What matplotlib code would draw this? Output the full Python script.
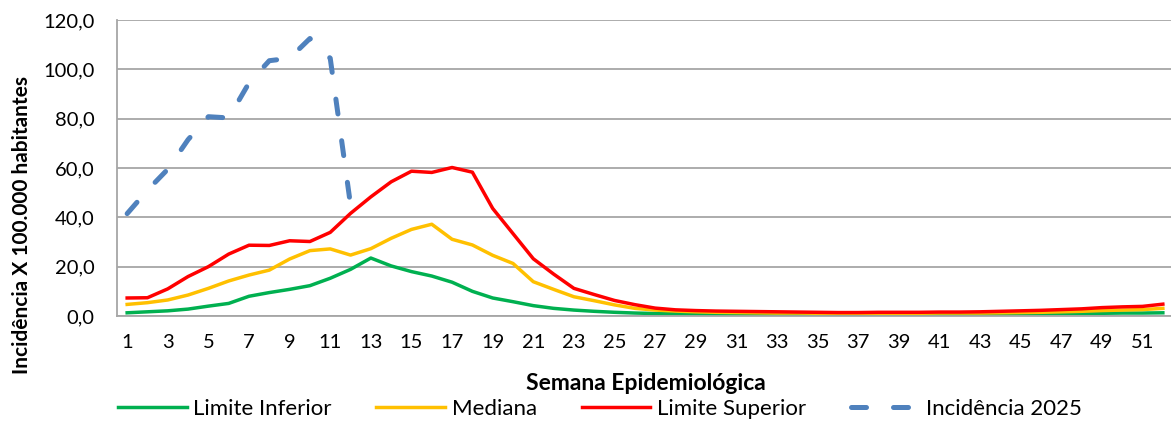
import matplotlib
matplotlib.use('Agg')
import matplotlib.pyplot as plt

plt.rcParams['font.family'] = ['Lato', 'DejaVu Sans']

semanas = list(range(1, 53))

limite_inferior = [1.3, 1.7, 2.1, 2.8, 4.0, 5.1, 8.0, 9.5, 10.8, 12.3, 15.3, 18.9,
                   23.5, 20.3, 18.0, 16.2, 13.7, 10.0, 7.3, 5.8, 4.2, 3.1, 2.4, 1.9,
                   1.5, 1.2, 1.0, 0.9, 0.8, 0.7, 0.7, 0.7, 0.7, 0.7, 0.7, 0.7,
                   0.7, 0.7, 0.7, 0.7, 0.8, 0.8, 0.8, 0.8, 0.9, 0.9, 1.0, 1.0,
                   1.1, 1.2, 1.2, 1.3]
mediana = [4.7, 5.4, 6.5, 8.5, 11.2, 14.2, 16.6, 18.6, 23.1, 26.5, 27.2, 24.7,
           27.3, 31.5, 35.1, 37.2, 31.1, 28.8, 24.6, 21.3, 13.9, 10.8, 7.8, 6.2,
           4.5, 3.1, 2.4, 2.0, 1.7, 1.5, 1.4, 1.3, 1.2, 1.2, 1.1, 1.1,
           1.1, 1.1, 1.1, 1.1, 1.2, 1.2, 1.2, 1.3, 1.4, 1.5, 1.7, 1.9,
           2.2, 2.4, 2.6, 3.1]
limite_superior = [7.3, 7.4, 11.0, 16.0, 20.0, 25.1, 28.7, 28.6, 30.5, 30.2, 33.9, 41.6,
                   48.3, 54.4, 58.7, 58.2, 60.2, 58.3, 43.6, 33.4, 23.2, 17.0, 11.2, 8.7,
                   6.3, 4.6, 3.2, 2.5, 2.2, 2.0, 1.9, 1.8, 1.7, 1.6, 1.5, 1.4,
                   1.4, 1.5, 1.5, 1.5, 1.6, 1.6, 1.7, 1.9, 2.1, 2.3, 2.6, 2.9,
                   3.4, 3.7, 3.9, 4.8]
incidencia_2025 = [41.5, 51.0, 59.5, 71.5, 80.8, 80.3, 94.5, 103.5, 104.5, 112.5, 104.5, 45.0]

fig = plt.figure(figsize=(11.71, 4.21), dpi=100)
ax = fig.add_axes([117 / 1171, 1 - 316 / 421, (1173 - 117) / 1171, (316 - 20) / 421])

ax.plot(semanas, limite_inferior, color='#00B050', lw=2.5, label='Limite Inferior')
ax.plot(semanas, mediana, color='#FFC000', lw=2.5, label='Mediana')
ax.plot(semanas, limite_superior, color='#FF0000', lw=2.5, label='Limite Superior')
ax.plot(semanas[:len(incidencia_2025)], incidencia_2025, color='#4F81BD', lw=3.6,
        dashes=(3, 5.4), dash_capstyle='round', label='Incidência 2025')

ax.set_xlim(0.5, 52.5)
ax.set_ylim(0, 120)
ax.set_yticks(range(0, 121, 20))
ax.set_yticklabels([f'{v},0' for v in range(0, 121, 20)])
ax.set_xticks(semanas[::2])
ax.tick_params(axis='both', length=0, labelsize=14.5, colors='black')
ax.tick_params(axis='x', pad=13)
ax.tick_params(axis='y', pad=16)

ax.grid(axis='y', color='#A6A6A6', lw=1.3)
ax.set_axisbelow(True)
for s in ['top', 'right']:
    ax.spines[s].set_visible(False)
for s in ['left', 'bottom']:
    ax.spines[s].set_color('#A6A6A6')
    ax.spines[s].set_linewidth(1.3)

fig.text(646 / 1171, 1 - 384 / 421, 'Semana Epidemiológica', fontsize=16.5,
         fontweight='bold', ha='center', va='center')
fig.text(22 / 1171, 1 - 225 / 421, 'Incidência X 100.000 habitantes', fontsize=15,
         fontweight='bold', ha='center', va='center', rotation=90)

fig.legend(loc='center', bbox_to_anchor=(600 / 1171, 1 - 409 / 421), ncol=4, frameon=False,
           fontsize=16, handlelength=3.1, columnspacing=2.0, handletextpad=0.3,
           borderpad=0, borderaxespad=0)

fig.savefig('out.png', dpi=100)
